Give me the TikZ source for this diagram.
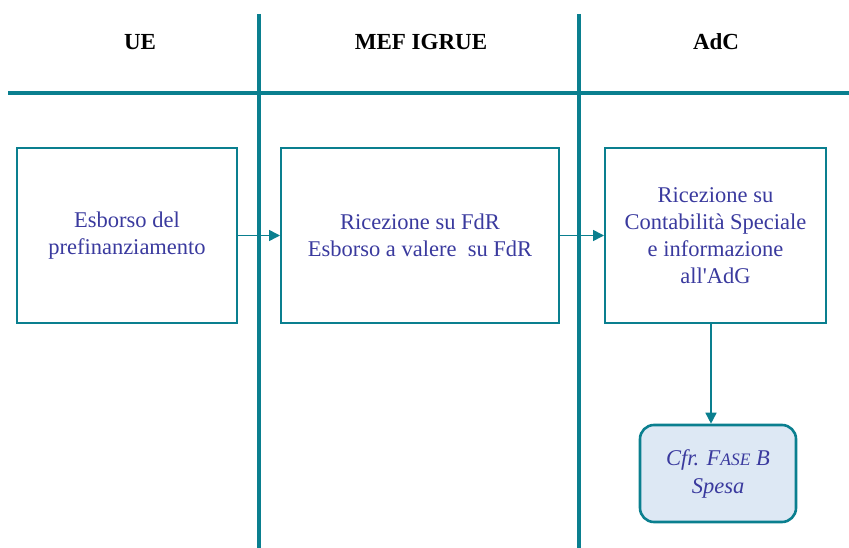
\documentclass[tikz,border=0pt]{standalone}
\usepackage{fontspec}
\setmainfont{Liberation Serif}
\usetikzlibrary{arrows.meta}
\definecolor{teal}{HTML}{0A7F8F}
\definecolor{txtblue}{HTML}{3A3A9E}
\definecolor{boxfill}{HTML}{DDE8F4}
\tikzset{
  lane/.style={draw=teal, line width=3.5pt},
  head/.style={font=\fontsize{23}{27}\selectfont\bfseries, text=black},
  procbox/.style={draw=teal, line width=2pt, text=txtblue, align=center,
     font=\fontsize{22.5}{27}\selectfont, inner sep=0pt},
  refbox/.style={draw=teal, fill=boxfill, line width=2.6pt, rounded corners=14pt,
     text=txtblue, align=center, font=\fontsize{22.5}{28}\selectfont\itshape, inner sep=0pt},
  flow/.style={draw=teal, line width=1.6pt, -{Triangle[length=11pt,width=11pt]}}
}
\begin{document}
\begin{tikzpicture}[x=1pt,y=-1pt]
\useasboundingbox (0,0) rectangle (849,548);
% lanes
\coordinate (v1t) at (259,14); \coordinate (v1b) at (259,548);
\coordinate (v2t) at (579,14); \coordinate (v2b) at (579,548);
\coordinate (hl) at (8,93); \coordinate (hr) at (849,93);
\draw[lane] (v1t) -- (v1b);
\draw[lane] (v2t) -- (v2b);
\draw[lane] (hl) -- (hr);
% headers
\node[head] (hUE) at (140,42) {UE};
\node[head] (hMEF) at (421,42) {MEF IGRUE};
\node[head] (hAdC) at (716,42) {AdC};
% boxes
\node[procbox, minimum width=220pt, minimum height=175pt] (b1) at (127,235.5)
  {Esborso del\\prefinanziamento};
\node[procbox, minimum width=278pt, minimum height=175pt] (b2) at (420,235.5)
  {Ricezione su FdR\\Esborso a valere\ \ su FdR};
\node[procbox, minimum width=221pt, minimum height=175pt] (b3) at (715.5,235.5)
  {Ricezione su\\Contabilità Speciale\\e informazione\\all\textquotesingle AdG};
\node[refbox, minimum width=156pt, minimum height=97pt] (b4) at (718,473.5)
  {Cfr. F{\fontsize{17.5}{20}\selectfont ASE} B\\Spesa};
% connectors
\coordinate (dropx) at (711,0);
\draw[flow] (b1.east) -- (b2.west);
\draw[flow] (b2.east) -- (b3.west);
\draw[flow] (b3.south -| dropx) -- (b4.north -| dropx);
\end{tikzpicture}
\end{document}
